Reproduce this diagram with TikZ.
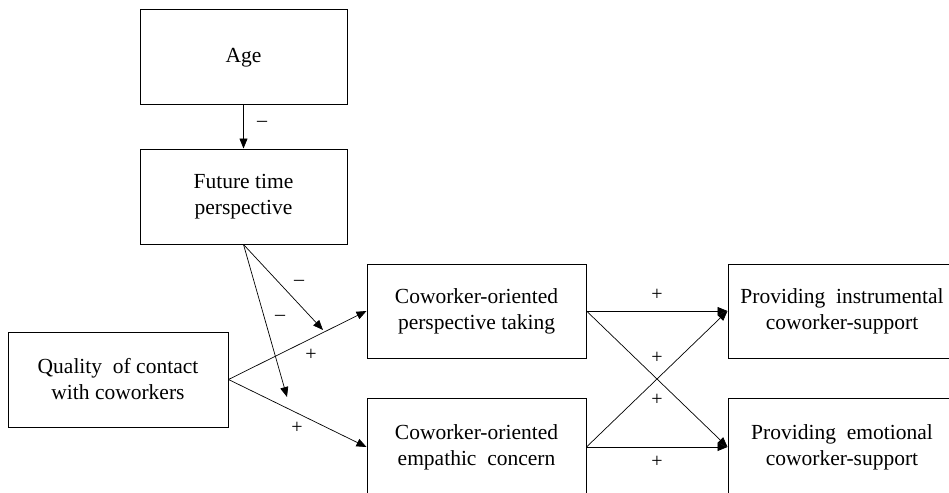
\documentclass[tikz,border=0pt]{standalone}
\usepackage{fontspec}
\setmainfont{Liberation Serif}
\usetikzlibrary{arrows.meta}
\begin{document}
\begin{tikzpicture}[x=1pt,y=-1pt,
  box/.style={draw, line width=1pt, rectangle, align=center, font=\fontsize{21.5}{26}\selectfont, inner sep=0pt},
  conn/.style={line width=0.7pt, -{Triangle[length=10pt,width=8pt]}},
  sign/.style={font=\fontsize{20}{24}\selectfont, inner sep=0pt}]
\useasboundingbox (0,0) rectangle (949,492);
\clip (0,0) rectangle (949,492);
\node[box, minimum width=207pt, minimum height=95pt] (age) at (243.5,57.5) {Age};
\node[box, minimum width=207pt, minimum height=95pt] (ftp) at (243.5,196.5) {Future time\\perspective};
\node[box, minimum width=220pt, minimum height=95pt] (qual) at (118,379.5) {Quality~ of contact\\with coworkers};
\node[box, minimum width=219pt, minimum height=94pt] (pers) at (476.5,311) {Coworker-oriented\\perspective taking};
\node[box, minimum width=219pt, minimum height=98pt] (emp) at (476.5,447) {Coworker-oriented\\empathic~ concern};
\node[box, minimum width=228pt, minimum height=94pt] (inst) at (842,311) {Providing~ instrumental\\coworker-support};
\node[box, minimum width=228pt, minimum height=98pt] (emo) at (842,447) {Providing~ emotional\\coworker-support};
\coordinate (m1) at (323,330);
\coordinate (m2) at (287,397);
\draw[conn] (age) -- (ftp);
\draw[conn] (qual.east) -- (pers.west);
\draw[conn] (qual.east) -- (emp.west);
\draw[conn] (ftp.south) -- (m1);
\draw[conn] (ftp.south) -- (m2);
\draw[conn] (pers.east) -- (inst.west);
\draw[conn] (pers.east) -- (emo.west);
\draw[conn] (emp.east) -- (inst.west);
\draw[conn] (emp.east) -- (emo.west);
\node[sign] (s1) at (262,124) {\textendash};
\node[sign] (s2) at (299,283) {\textendash};
\node[sign] (s3) at (280,318) {\textendash};
\node[sign] (s4) at (311,355) {+};
\node[sign] (s5) at (297,428) {+};
\node[sign] (s6) at (657,295) {+};
\node[sign] (s7) at (657,358) {+};
\node[sign] (s8) at (657,400) {+};
\node[sign] (s9) at (657,462) {+};
\end{tikzpicture}
\end{document}
